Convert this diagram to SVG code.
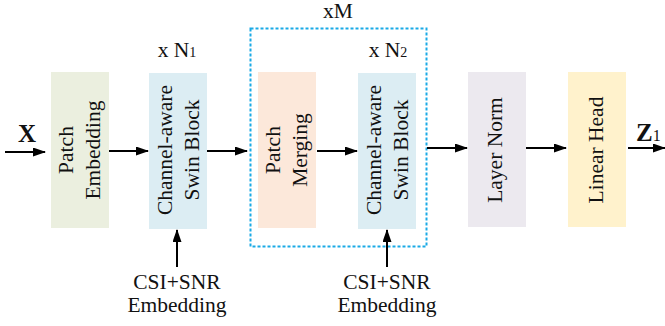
<svg xmlns="http://www.w3.org/2000/svg" width="665" height="326" viewBox="0 0 665 326">
<defs>
<marker id="ah" markerWidth="13" markerHeight="9" refX="12" refY="4.5" orient="auto" markerUnits="userSpaceOnUse">
<path d="M0,0 L13,4.5 L0,9 z" fill="#000"/>
</marker>
<style>
text{font-family:"Liberation Serif","Times New Roman",serif;font-size:21.5px;fill:#111;}
.c{text-anchor:middle;}
.b{font-weight:bold;font-size:25px;}
.ln{stroke:#000;stroke-width:2;fill:none;marker-end:url(#ah);}
.sub{font-size:14px;}
</style>
</defs>
<rect width="665" height="326" fill="#fff"/>
<g id="loop-M">
<rect x="250.5" y="28.5" width="176" height="218" fill="none" stroke="#1AAAE6" stroke-width="2" stroke-dasharray="3 2"/>
<text class="c" x="338" y="18">xM</text>
</g>
<g id="patch-embedding">
<rect x="51" y="72" width="58" height="156" fill="#EBEFDF"/>
<g transform="translate(80,150) rotate(-90)">
<text class="c" x="0" y="-7">Patch</text>
<text class="c" x="0" y="20">Embedding</text>
</g>
</g>
<g id="swin-block-1">
<rect x="149" y="73" width="58" height="156" fill="#DCEDF3"/>
<g transform="translate(178,150) rotate(-90)">
<text class="c" x="0" y="-6">Channel-aware</text>
<text class="c" x="0" y="21">Swin Block</text>
</g>
<text class="c" x="177" y="57">x N<tspan class="sub">1</tspan></text>
</g>
<g id="patch-merging">
<rect x="258" y="72" width="58" height="156" fill="#FCE8DA"/>
<g transform="translate(287,150) rotate(-90)">
<text class="c" x="0" y="-7">Patch</text>
<text class="c" x="0" y="20">Merging</text>
</g>
</g>
<g id="swin-block-2">
<rect x="358" y="73" width="58" height="156" fill="#DCEDF3"/>
<g transform="translate(387,150) rotate(-90)">
<text class="c" x="0" y="-6">Channel-aware</text>
<text class="c" x="0" y="21">Swin Block</text>
</g>
<text class="c" x="388" y="57">x N<tspan class="sub">2</tspan></text>
</g>
<g id="layer-norm">
<rect x="468" y="72" width="58" height="155" fill="#ECE9EF"/>
<g transform="translate(497,150) rotate(-90)">
<text class="c" x="0" y="5">Layer Norm</text>
</g>
</g>
<g id="linear-head">
<rect x="568" y="72" width="58" height="155" fill="#FFF2CC"/>
<g transform="translate(597,150) rotate(-90)">
<text class="c" x="0" y="6">Linear Head</text>
</g>
</g>
<g id="input-X"><text class="c b" x="27" y="142">X</text></g>
<g id="output-Z1"><text x="636" y="141"><tspan class="b">Z</tspan><tspan font-size="16px">1</tspan></text></g>
<g id="csi-1">
<text class="c" x="177" y="289">CSI+SNR</text>
<text class="c" x="177" y="312">Embedding</text>
</g>
<g id="csi-2">
<text class="c" x="387" y="289">CSI+SNR</text>
<text class="c" x="387" y="312">Embedding</text>
</g>
<g id="connectors">
<line class="ln" x1="5" y1="152" x2="45" y2="152"/>
<line class="ln" x1="109" y1="151" x2="148" y2="151"/>
<line class="ln" x1="207" y1="151" x2="247" y2="151"/>
<line class="ln" x1="317" y1="151" x2="357" y2="151"/>
<line class="ln" x1="427" y1="148" x2="467" y2="148"/>
<line class="ln" x1="526" y1="148" x2="566" y2="148"/>
<line class="ln" x1="628" y1="148" x2="665" y2="148"/>
<line class="ln" x1="177" y1="267" x2="177" y2="230"/>
<line class="ln" x1="387" y1="267" x2="387" y2="230"/>
</g>
</svg>
